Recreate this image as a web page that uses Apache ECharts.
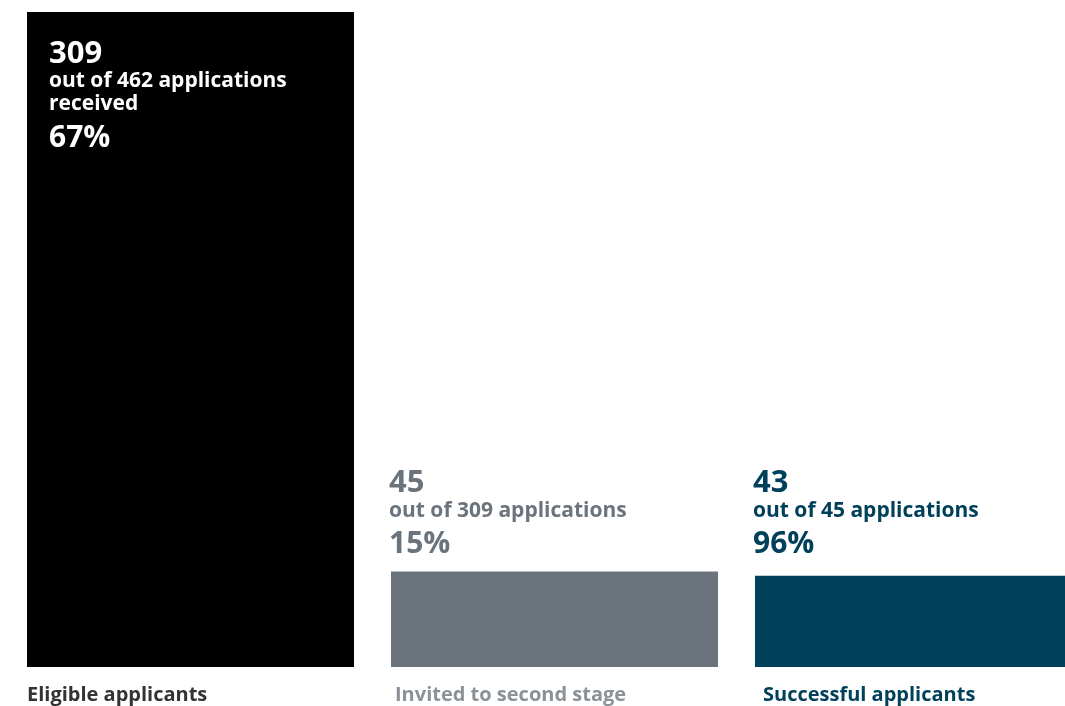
<!DOCTYPE html>
<html>
<head>
<meta charset="utf-8">
<script src="https://cdn.jsdelivr.net/npm/echarts@6/dist/echarts.min.js"></script>
<style>
  html, body { margin: 0; padding: 0; background: #fff; overflow: hidden; width: 1065px; height: 706px; }
  #chart { width: 1101px; height: 706px; }
</style>
</head>
<body>
<div id="chart"></div>
<script>
// Application funnel: eligible -> invited -> successful
const stages = ['Eligible applicants', 'Invited to second stage', 'Successful applicants'];
const counts = [309, 45, 43];
const outOf = [462, 309, 45];
const outOfSuffix = [' applications\nreceived', ' applications', ' applications'];
const percents = ['67%', '15%', '96%'];

const barColors = ['#000000', '#6b747c', '#00405a'];
const valueTextColors = ['#ffffff', '#6b747c', '#00405a'];
const stageTextColors = ['#333333', '#8a9197', '#00405a'];
const stageLabelShift = [0, 4, 8];
const valueLabelLift = [0, -5.5, -9.5];

const FONT = 'Open Sans';

function valueLabel(i) {
  const lines = ('out of ' + outOf[i] + outOfSuffix[i]).split('\n');
  const body = lines.map(l => '{t|' + l + '}').join('\n');
  const text = '{n|' + counts[i] + '}\n' + body + '\n{p|' + percents[i] + '}';
  const inside = i === 0;
  return {
    show: true,
    formatter: text,
    position: inside ? [22, 26] : [-2, valueLabelLift[i]],
    align: 'left',
    verticalAlign: inside ? 'top' : 'bottom',
    color: valueTextColors[i],
    fontFamily: FONT,
    fontWeight: 'bold',
    rich: {
      n: { fontSize: 31, lineHeight: 32, fontWeight: 'bold', fontFamily: FONT, color: valueTextColors[i] },
      t: { fontSize: 21, lineHeight: 23, fontWeight: 'bold', fontFamily: FONT, color: valueTextColors[i] },
      p: { fontSize: 30, lineHeight: 44, fontWeight: 'bold', fontFamily: FONT, color: valueTextColors[i] }
    }
  };
}

const mainData = counts.map((v, i) => ({
  value: v,
  itemStyle: { color: barColors[i] },
  label: valueLabel(i)
}));

// transparent twin bars carry the stage names under each column
const nameData = counts.map((v, i) => ({
  value: v,
  label: {
    show: true,
    formatter: stages[i],
    position: 'insideBottomLeft',
    distance: 0,
    offset: [stageLabelShift[i], 38.5],
    color: stageTextColors[i],
    fontFamily: FONT,
    fontWeight: 'bold',
    fontSize: 20
  }
}));

const chart = echarts.init(document.getElementById('chart'), null, { renderer: 'canvas' });
chart.setOption({
  animation: false,
  grid: { left: 8.5, top: 12, width: 1092, height: 655, containLabel: false },
  xAxis: {
    type: 'category',
    data: stages,
    show: false
  },
  yAxis: {
    type: 'value',
    min: 0,
    max: 309,
    show: false
  },
  series: [
    {
      type: 'bar',
      data: mainData,
      barWidth: 327,
      barGap: '-100%',
      z: 2
    },
    {
      type: 'bar',
      data: nameData,
      barWidth: 327,
      barGap: '-100%',
      itemStyle: { color: 'rgba(0,0,0,0)' },
      z: 3
    }
  ]
});
</script>
</body>
</html>
